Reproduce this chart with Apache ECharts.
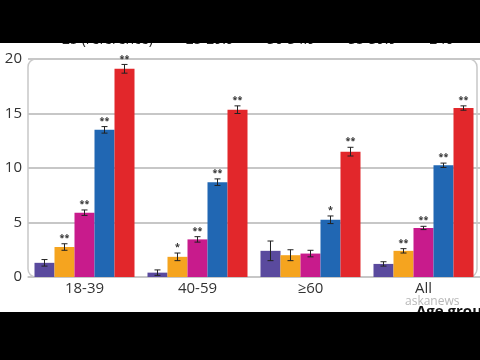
<!DOCTYPE html>
<html><head><meta charset="utf-8">
<script src="https://cdn.jsdelivr.net/npm/echarts@6/dist/echarts.min.js"></script>
<style>html,body{margin:0;padding:0;background:#fff;} #c{width:480px;height:360px;}</style>
</head><body><div id="c"></div><script>
const categories = ['18-39', '40-59', '≥60', 'All'];
const seriesNames = ['<25 (reference)', '25-29.9', '30-34.9', '35-39.9', '≥40'];
const colors = ['#5a4a9e', '#f5a41f', '#c81b8c', '#2167b3', '#e2272b'];
const yTicks = [0, 5, 10, 15, 20];

const purpleValues = [1.3, 0.4, 2.4, 1.2];
const orangeValues = [2.75, 1.85, 2.0, 2.4];
const magentaValues = [5.9, 3.45, 2.15, 4.5];
const blueValues = [13.5, 8.7, 5.25, 10.25];
const redValues = [19.1, 15.35, 11.5, 15.5];

const purpleErr = [0.3, 0.25, 0.9, 0.2];
const orangeErr = [0.3, 0.35, 0.5, 0.2];
const magentaErr = [0.25, 0.25, 0.3, 0.15];
const blueErr = [0.3, 0.3, 0.35, 0.2];
const redErr = [0.4, 0.35, 0.4, 0.2];

const purpleSig = ['', '', '', ''];
const orangeSig = ['**', '*', '', '**'];
const magentaSig = ['**', '**', '', '**'];
const blueSig = ['**', '**', '*', '**'];
const redSig = ['**', '**', '**', '**'];

const allValues = [purpleValues, orangeValues, magentaValues, blueValues, redValues];
const allErr = [purpleErr, orangeErr, magentaErr, blueErr, redErr];
const allSig = [purpleSig, orangeSig, magentaSig, blueSig, redSig];

const gapRatio = 0.115;
const FONT = '"Open Sans", "Noto Sans", sans-serif';

const series = [];
allValues.forEach((vals, i) => {
  series.push({
    name: seriesNames[i], type: 'bar', data: vals,
    itemStyle: { color: colors[i] },
    barGap: '0%', barCategoryGap: (gapRatio * 100) + '%', z: 2
  });
});
allValues.forEach((vals, i) => {
  const errs = allErr[i], sig = allSig[i];
  series.push({
    type: 'custom', z: 5,
    data: vals.map((v, k) => [k, v, errs[k]]),
    renderItem: (params, api) => {
      const ci = api.value(0), v = api.value(1), e = api.value(2);
      const band = api.size([1, 0])[0];
      const bw = band * (1 - gapRatio) / 5;
      const cx = api.coord([ci, v])[0] + (i - 2) * bw;
      const yt = api.coord([ci, v + e])[1];
      const yb = api.coord([ci, v - e])[1];
      const cap = 3;
      const st = { stroke: '#222', lineWidth: 1 };
      const children = [
        { type: 'line', shape: { x1: cx, y1: yt, x2: cx, y2: yb }, style: st },
        { type: 'line', shape: { x1: cx - cap, y1: yt, x2: cx + cap, y2: yt }, style: st },
        { type: 'line', shape: { x1: cx - cap, y1: yb, x2: cx + cap, y2: yb }, style: st }
      ];
      const s = sig[params.dataIndex];
      if (s) {
        children.push({ type: 'text', style: { text: s, x: cx, y: yt - 1, align: 'center', verticalAlign: 'bottom', fontSize: 9, fontWeight: 'bold', fill: '#333', fontFamily: FONT } });
      }
      return { type: 'group', children };
    }
  });
});

const chart = echarts.init(document.getElementById('c'));
chart.setOption({
  animation: false,
  backgroundColor: '#fff',
  textStyle: { fontFamily: FONT },
  grid: { left: 28, right: 0, top: 59, bottom: 83, containLabel: false },
  legend: {
    data: seriesNames, top: 28, left: 34, right: 0, itemGap: 18, itemWidth: 10, itemHeight: 5,
    textStyle: { fontSize: 14, color: '#222', fontFamily: FONT }
  },
  title: [
    { text: 'Age group', left: 411, top: 299, textStyle: { fontSize: 15, fontWeight: 'bold', color: '#111', fontFamily: FONT } },
    { text: 'askanews', left: 400, top: 291, textStyle: { fontSize: 12, fontWeight: 'normal', color: '#b8b8b8', fontFamily: FONT } }
  ],
  xAxis: {
    type: 'category', data: categories,
    axisLine: { show: true, lineStyle: { color: '#c8c8c8', width: 1.5 } },
    axisTick: { show: false },
    axisLabel: { fontSize: 15, color: '#333', margin: 4, fontFamily: FONT }
  },
  yAxis: {
    type: 'value', min: yTicks[0], max: yTicks[yTicks.length - 1], interval: 5,
    axisLine: { show: false }, axisTick: { show: false },
    axisLabel: { fontSize: 15, color: '#333', margin: 6, fontFamily: FONT },
    splitLine: { lineStyle: { color: '#b4b4b4', width: 1.5 } }
  },
  graphic: [
    { type: 'rect', z: 1, shape: { x: 28, y: 59, width: 449, height: 218, r: 8 }, style: { fill: 'none', stroke: '#c8c8c8', lineWidth: 1.5 } },
    { type: 'rect', z: 100, shape: { x: 0, y: 0, width: 480, height: 43 }, style: { fill: '#000' } },
    { type: 'rect', z: 100, shape: { x: 0, y: 312, width: 480, height: 48 }, style: { fill: '#000' } }
  ],
  series
});
</script></body></html>
